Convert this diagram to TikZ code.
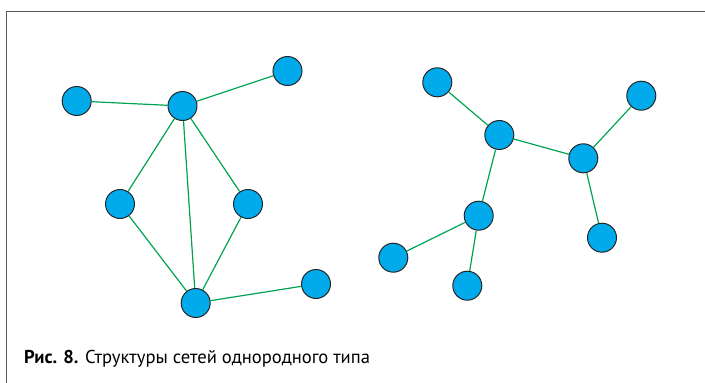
\documentclass[tikz,border=0pt]{standalone}
\usepackage{fontspec}
\setmainfont{PT Sans}
\begin{document}
\begin{tikzpicture}[x=1pt,y=-1pt,
  netnode/.style={circle,draw=black!85,line width=1pt,fill=nodeblue,minimum size=29pt,inner sep=0pt},
  link/.style={draw=linkgreen,line width=1.2pt}]
\definecolor{nodeblue}{RGB}{0,170,235}
\definecolor{linkgreen}{RGB}{0,163,80}
\definecolor{framegray}{RGB}{90,90,90}
\useasboundingbox (0,0) rectangle (705,383);
% frame
\draw[framegray,line width=0.9pt] (6.5,383) -- (6.5,11.5) -- (705,11.5);
% left network
\node[netnode] (a) at (76.7,101) {};
\node[netnode] (b) at (182.5,106) {};
\node[netnode] (c) at (287.5,71) {};
\node[netnode] (d) at (120,204) {};
\node[netnode] (e) at (248,204) {};
\node[netnode] (f) at (195.7,303) {};
\node[netnode] (g) at (316,284) {};
\draw[link] (a) -- (b) (b) -- (c) (b) -- (d) (b) -- (e) (b) -- (f) (d) -- (f) (e) -- (f) (f) -- (g);
% right network
\node[netnode] (h) at (437.3,82.3) {};
\node[netnode] (i) at (499.3,135) {};
\node[netnode] (j) at (583.3,158.3) {};
\node[netnode] (k) at (641.3,95.7) {};
\node[netnode] (l) at (602,237.7) {};
\node[netnode] (m) at (478.7,215.7) {};
\node[netnode] (n) at (393.3,257.7) {};
\node[netnode] (o) at (467.3,285.7) {};
\draw[link] (h) -- (i) (i) -- (j) (j) -- (k) (j) -- (l) (i) -- (m) (m) -- (n) (m) -- (o);
% caption
\node[anchor=base west,inner sep=0pt,font=\fontsize{18.6}{22}\selectfont] (cap) at (24,363)
  {\textbf{Рис. 8.} Структуры сетей однородного типа};
\end{tikzpicture}
\end{document}
